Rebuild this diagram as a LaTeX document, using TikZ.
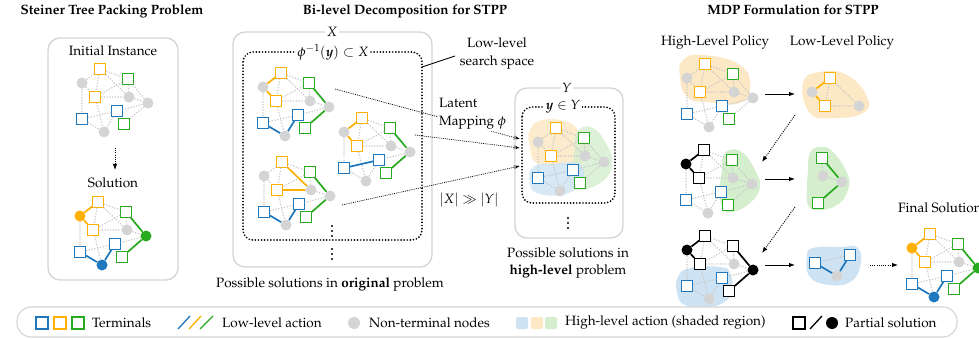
\documentclass[tikz,border=0pt]{standalone}
\usepackage[T1]{fontenc}
\usepackage{mathpazo}
\usetikzlibrary{arrows.meta}
\definecolor{myblue}{RGB}{31,120,190}
\definecolor{myorange}{RGB}{255,176,0}
\definecolor{mygreen}{RGB}{40,170,30}
\definecolor{gnode}{RGB}{212,212,212}
\definecolor{gedgec}{RGB}{198,198,198}
\definecolor{boxgray}{RGB}{212,212,212}
\definecolor{lblue}{RGB}{205,227,243}
\definecolor{lorange}{RGB}{252,232,196}
\definecolor{lgreen}{RGB}{212,238,206}
\tikzset{
  sq/.style={rectangle, draw=#1, fill=white, minimum size=10.5pt, inner sep=0pt, line width=1.1pt},
  tY/.style={sq=myorange}, tB/.style={sq=myblue}, tG/.style={sq=mygreen},
  tK/.style={sq=black, line width=1.2pt},
  circ/.style={circle, fill=#1, minimum size=11pt, inner sep=0pt},
  gC/.style={circ=gnode}, cY/.style={circ=myorange}, cG/.style={circ=mygreen},
  cB/.style={circ=myblue}, cK/.style={circ=black},
  ged/.style={draw=gedgec, line width=1.15pt, dash pattern=on 1.2pt off 1.6pt},
  ced/.style={draw=#1, line width=1.7pt},
  gbox/.style={draw=boxgray, line width=1.3pt, rounded corners=12pt},
  dbox/.style={draw=black, line width=1.9pt, line cap=round, dash pattern=on 0pt off 3.1pt, rounded corners=10pt},
  lab/.style={fill=white, inner sep=1.5pt},
  titl/.style={font=\fontsize{13.5}{16}\selectfont\bfseries},
  sarr/.style={line width=0.9pt, -{Latex[length=6pt,width=4.5pt]}},
  darr/.style={line width=0.9pt, dash pattern=on 1pt off 1.2pt, -{Latex[length=6pt,width=4.5pt]}},
  marr/.style={line width=0.7pt, dash pattern=on 0.9pt off 1pt, -{Latex[length=6pt,width=4.5pt]}},
  legtxt/.style={anchor=west, inner sep=0pt},
}
\newcommand{\gcoords}[3]{%
\coordinate (#1A) at ({#2+100},{#3+69});
\coordinate (#1B) at ({#2+82},{#3+83});
\coordinate (#1C) at ({#2+128},{#3+79});
\coordinate (#1D) at ({#2+95},{#3+97});
\coordinate (#1E) at ({#2+129},{#3+97});
\coordinate (#1F) at ({#2+148},{#3+103});
\coordinate (#1G) at ({#2+117},{#3+111});
\coordinate (#1H) at ({#2+82},{#3+119});
\coordinate (#1I) at ({#2+124},{#3+124});
\coordinate (#1J) at ({#2+104},{#3+132});}
\newcommand{\gnodes}[6]{%
\node[#2] (#1An) at (#1A) {};
\node[#3] (#1Bn) at (#1B) {};
\node[#4] (#1Cn) at (#1C) {};
\node[#5] (#1Dn) at (#1D) {};
\node[#6] (#1En) at (#1E) {};
\def\gpref{#1}\gnodesrest}
\newcommand{\gnodesrest}[5]{%
\node[#1] (\gpref Fn) at (\gpref F) {};
\node[#2] (\gpref Gn) at (\gpref G) {};
\node[#3] (\gpref Hn) at (\gpref H) {};
\node[#4] (\gpref In) at (\gpref I) {};
\node[#5] (\gpref Jn) at (\gpref J) {};}
\newcommand{\gedges}[1]{%
\draw[ged] (#1An)--(#1Bn) (#1An)--(#1Cn) (#1An)--(#1Dn) (#1An)--(#1En)
 (#1Bn)--(#1Dn) (#1Bn)--(#1Hn) (#1Cn)--(#1Dn) (#1Cn)--(#1En) (#1Cn)--(#1Fn)
 (#1Dn)--(#1En) (#1Dn)--(#1Jn) (#1En)--(#1Fn) (#1Fn)--(#1Gn) (#1Fn)--(#1In)
 (#1Gn)--(#1Hn) (#1Gn)--(#1Jn) (#1Hn)--(#1Jn);}
\newcommand{\blob}[4]{\begin{scope}[shift={(#1,#2)}]\fill[#3] plot[smooth cycle, tension=0.8] coordinates {#4};\end{scope}}
\newcommand{\solcol}[1]{%
\draw[ced=myorange] (#1An)--(#1Bn) (#1Bn)--(#1Dn);
\draw[ced=mygreen] (#1Cn)--(#1Fn) (#1Fn)--(#1In);
\draw[ced=myblue] (#1Hn)--(#1Jn) (#1Jn)--(#1Gn);}
\newcommand{\dotcol}[2]{\fill (#1,{#2-5}) circle (1.15) (#1,#2) circle (1.15) (#1,{#2+5}) circle (1.15);}
\begin{document}
\begin{tikzpicture}[x=1pt,y=-1pt,font=\fontsize{13.5}{17}\selectfont]
\useasboundingbox (0,0) rectangle (979,339);
% titles
\node[titl] (t1) at (112,11) {Steiner Tree Packing Problem};
\node[titl] (t2) at (405,11) {Bi-level Decomposition for STPP};
\node[titl] (t3) at (793,10) {MDP Formulation for STPP};
% ---------------- left panel
\draw[gbox] (48,38) rectangle (178,280);
\node (ii) at (113,51) {Initial Instance};
\gcoords{a}{0}{0}
\gnodes{a}{tY}{gC}{tG}{tY}{gC}{gC}{tB}{tB}{tG}{gC}
\gedges{a}
\coordinate (la1) at (115,148); \coordinate (la2) at (115,170);
\draw[darr] (la1)--(la2);
\node (sol) at (113,183) {Solution};
\gcoords{b}{-2}{133}
\gnodes{b}{tY}{cY}{tG}{tY}{gC}{cG}{tB}{tB}{tG}{cB}
\gedges{b}
\solcol{b}
% ---------------- X box
\draw[gbox] (233,32) rectangle (432,267);
\draw[dbox] (243,52) rectangle (422,240);
\node[lab] (xl) at (332,32) {$X$};
\node[lab] (phil) at (333,52) {$\phi^{-1}(\textbf{\textit{y}})\subset X$};
\gcoords{c}{181}{4}
\gnodes{c}{tY}{gC}{tG}{tY}{gC}{gC}{tB}{tB}{tG}{gC}
\gedges{c}
\solcol{c}
\gcoords{d}{262}{49}
\gnodes{d}{tY}{gC}{tG}{tY}{gC}{gC}{tB}{tB}{tG}{gC}
\gedges{d}
\draw[ced=myorange] (dAn)--(dBn) (dBn)--(dDn);
\draw[ced=mygreen] (dCn)--(dFn) (dFn)--(dIn);
\draw[ced=myblue] (dHn)--(dGn);
\gcoords{e}{182}{93}
\gnodes{e}{tY}{gC}{tG}{tY}{gC}{gC}{tB}{tB}{tG}{gC}
\gedges{e}
\draw[ced=myorange] (eAn)--(eEn) (eDn)--(eEn);
\draw[ced=mygreen] (eCn)--(eFn) (eFn)--(eIn);
\draw[ced=myblue] (eHn)--(eJn) (eJn)--(eGn);
\dotcol{332}{231}
\dotcol{332}{254}
\node (poss1) at (330,285) {Possible solutions in \textbf{original} problem};
% low-level search space
\coordinate (lp1) at (422,67); \coordinate (lp2) at (455,56);
\draw[line width=0.8pt] (lp1)--(lp2);
\node[align=center, font=\fontsize{13.5}{18}\selectfont] (lls) at (497,54) {Low-level\\search space};
% mapping arrows
\coordinate (m1s) at (335,89); \coordinate (m1e) at (520,139);
\coordinate (m2s) at (415,135); \coordinate (m2e) at (520,148);
\coordinate (m3s) at (342,205); \coordinate (m3e) at (520,166);
\draw[marr] (m1s)--(m1e);
\draw[marr] (m2s)--(m2e);
\draw[marr] (m3s)--(m3e);
\node[fill=white, align=left, anchor=west, inner sep=1pt, font=\fontsize{13.5}{18}\selectfont] (lat) at (438,114) {Latent\\Mapping $\phi$};
\node (xy) at (469,200) {$|X|\gg|Y|$};
% ---------------- Y box
\draw[gbox] (515,88) rectangle (623,238);
\draw[dbox] (522,107) rectangle (615,203);
\node[lab] (yl) at (567,88) {$Y$};
\node[lab] (yin) at (563,107) {$\textbf{\textit{y}}\in Y$};
\blob{456}{59}{lorange, fill opacity=0.85}{(74,71) (87,61) (111,63) (124,74) (134,91) (127,104) (107,106) (81,104) (74,88)}
\blob{456}{59}{lgreen, fill opacity=0.8}{(121,73) (137,69) (152,88) (156,104) (151,118) (134,129) (117,129) (114,118) (118,95)}
\blob{456}{59}{lblue, fill opacity=0.8}{(77,108) (97,105) (121,104) (128,114) (122,128) (104,136) (81,134) (74,124)}
\gcoords{f}{456}{59}
\gnodes{f}{tY}{gC}{tG}{tY}{gC}{gC}{tB}{tB}{tG}{gC}
\gedges{f}
\dotcol{568}{223}
\node[align=center, font=\fontsize{13.5}{17}\selectfont] (poss2) at (568,263) {Possible solutions in\\\textbf{high-level} problem};
% ---------------- right panel
\node (hlpol) at (715,43) {High-Level Policy};
\node (llpol) at (842,43) {Low-Level Policy};
% row 1
\blob{605}{-5}{lorange}{(78,65) (98,60) (135,70) (145,92) (135,108) (102,107) (82,102) (75,82)}
\gcoords{g}{605}{-5}
\gnodes{g}{tY}{gC}{tG}{tY}{gC}{gC}{tB}{tB}{tG}{gC}
\gedges{g}
\blob{730}{9}{lorange}{(73,74) (90,63) (117,66) (137,88) (133,104) (103,109) (80,104)}
\gcoords{h}{730}{9}
\node[gC] (hBn) at (hB) {};
\node[tY] (hAn) at (hA) {};
\node[tY] (hDn) at (hD) {};
\node[gC] (hEn) at (hE) {};
\draw[ged] (hAn)--(hDn) (hAn)--(hEn) (hDn)--(hEn);
\draw[ced=myorange] (hBn)--(hAn) (hBn)--(hDn);
% row 2
\blob{604}{81}{lgreen}{(119,76) (126,69) (139,72) (151,89) (156,106) (146,122) (128,131) (118,126) (116,106) (118,89)}
\gcoords{i}{604}{81}
\gnodes{i}{tK}{cK}{tG}{tK}{gC}{gC}{tB}{tB}{tG}{gC}
\gedges{i}
\draw[ced=black] (iAn)--(iBn) (iBn)--(iDn);
\blob{694}{79}{lgreen}{(116,74) (126,68) (139,73) (153,94) (154,111) (143,126) (124,131) (114,126) (113,111) (114,91)}
\gcoords{j}{694}{79}
\node[tG] (jCn) at (jC) {};
\node[gC] (jEn) at (jE) {};
\node[gC] (jFn) at (jF) {};
\node[tG] (jIn) at (jI) {};
\draw[ged] (jCn)--(jEn) (jEn)--(jFn);
\draw[ced=mygreen] (jCn)--(jFn) (jFn)--(jIn);
% row 3
\blob{605}{167}{lblue}{(73,110) (85,101) (115,100) (125,106) (127,123) (122,133) (105,140) (80,138) (72,125)}
\gcoords{k}{605}{167}
\gnodes{k}{tK}{cK}{tK}{tK}{gC}{cK}{tB}{tB}{tK}{gC}
\gedges{k}
\draw[ced=black] (kAn)--(kBn) (kBn)--(kDn) (kCn)--(kFn) (kFn)--(kIn);
\blob{733}{144}{lblue}{(74,113) (80,104) (107,103) (125,104) (127,123) (117,138) (97,141) (77,133)}
\gcoords{l}{733}{144}
\node[tB] (lHn) at (lH) {};
\node[tB] (lGn) at (lG) {};
\node[gC] (lJn) at (lJ) {};
\draw[ged] (lHn)--(lGn);
\draw[ced=myblue] (lHn)--(lJn) (lJn)--(lGn);
% final
\node[anchor=west, inner sep=0pt] (fs) at (898,208) {Final Solution};
\gcoords{m}{830}{165}
\gnodes{m}{tY}{cY}{tG}{tY}{gC}{cG}{tB}{tB}{tG}{cB}
\gedges{m}
\solcol{m}
% arrows right panel
\coordinate (r1a) at (765,94); \coordinate (r1b) at (795,94);
\coordinate (r2a) at (765,179); \coordinate (r2b) at (795,179);
\coordinate (r3a) at (765,265); \coordinate (r3b) at (795,265);
\draw[sarr] (r1a)--(r1b);
\draw[sarr] (r2a)--(r2b);
\draw[sarr] (r3a)--(r3b);
\coordinate (d1a) at (795,115); \coordinate (d1b) at (762,162);
\coordinate (d2a) at (795,207); \coordinate (d2b) at (762,253);
\coordinate (d3a) at (870,265); \coordinate (d3b) at (898,265);
\draw[darr] (d1a)--(d1b);
\draw[darr] (d2a)--(d2b);
\draw[darr] (d3a)--(d3b);
% ---------------- legend
\draw[draw=boxgray, line width=1.1pt, fill=white, rounded corners=14pt] (17,307) rectangle (957,337);
\node[sq=myblue, minimum size=12pt, line width=1.3pt] (lg1) at (42,323) {};
\node[sq=myorange, minimum size=12pt, line width=1.3pt] (lg2) at (60,323) {};
\node[sq=mygreen, minimum size=12pt, line width=1.3pt] (lg3) at (78,323) {};
\node[legtxt] (lt1) at (92,323) {Terminals};
\draw[myblue, line width=1.3pt] (178,329)--(190,316);
\draw[myorange, line width=1.3pt] (189,329)--(201,316);
\draw[mygreen, line width=1.3pt] (200,329)--(213,316);
\node[legtxt] (lt2) at (222,323) {Low-level action};
\node[circ=gnode, minimum size=12pt] (lg4) at (354,323) {};
\node[legtxt] (lt3) at (369,323) {Non-terminal nodes};
\node[rectangle, fill=lblue, rounded corners=2pt, minimum size=12pt] (lg5) at (522,323) {};
\node[rectangle, fill=lorange, rounded corners=2pt, minimum size=12pt] (lg6) at (537,323) {};
\node[rectangle, fill=lgreen, rounded corners=2pt, minimum size=12pt] (lg7) at (551,323) {};
\node[legtxt] (lt4) at (565,323) {High-level action (shaded region)};
\node[sq=black, minimum size=12pt, line width=1.4pt] (lg8) at (799,323) {};
\draw[line width=1.3pt] (810,329)--(822,316);
\node[circ=black, minimum size=12pt] (lg9) at (832,323) {};
\node[legtxt] (lt5) at (845,323) {Partial solution};
\end{tikzpicture}
\end{document}
